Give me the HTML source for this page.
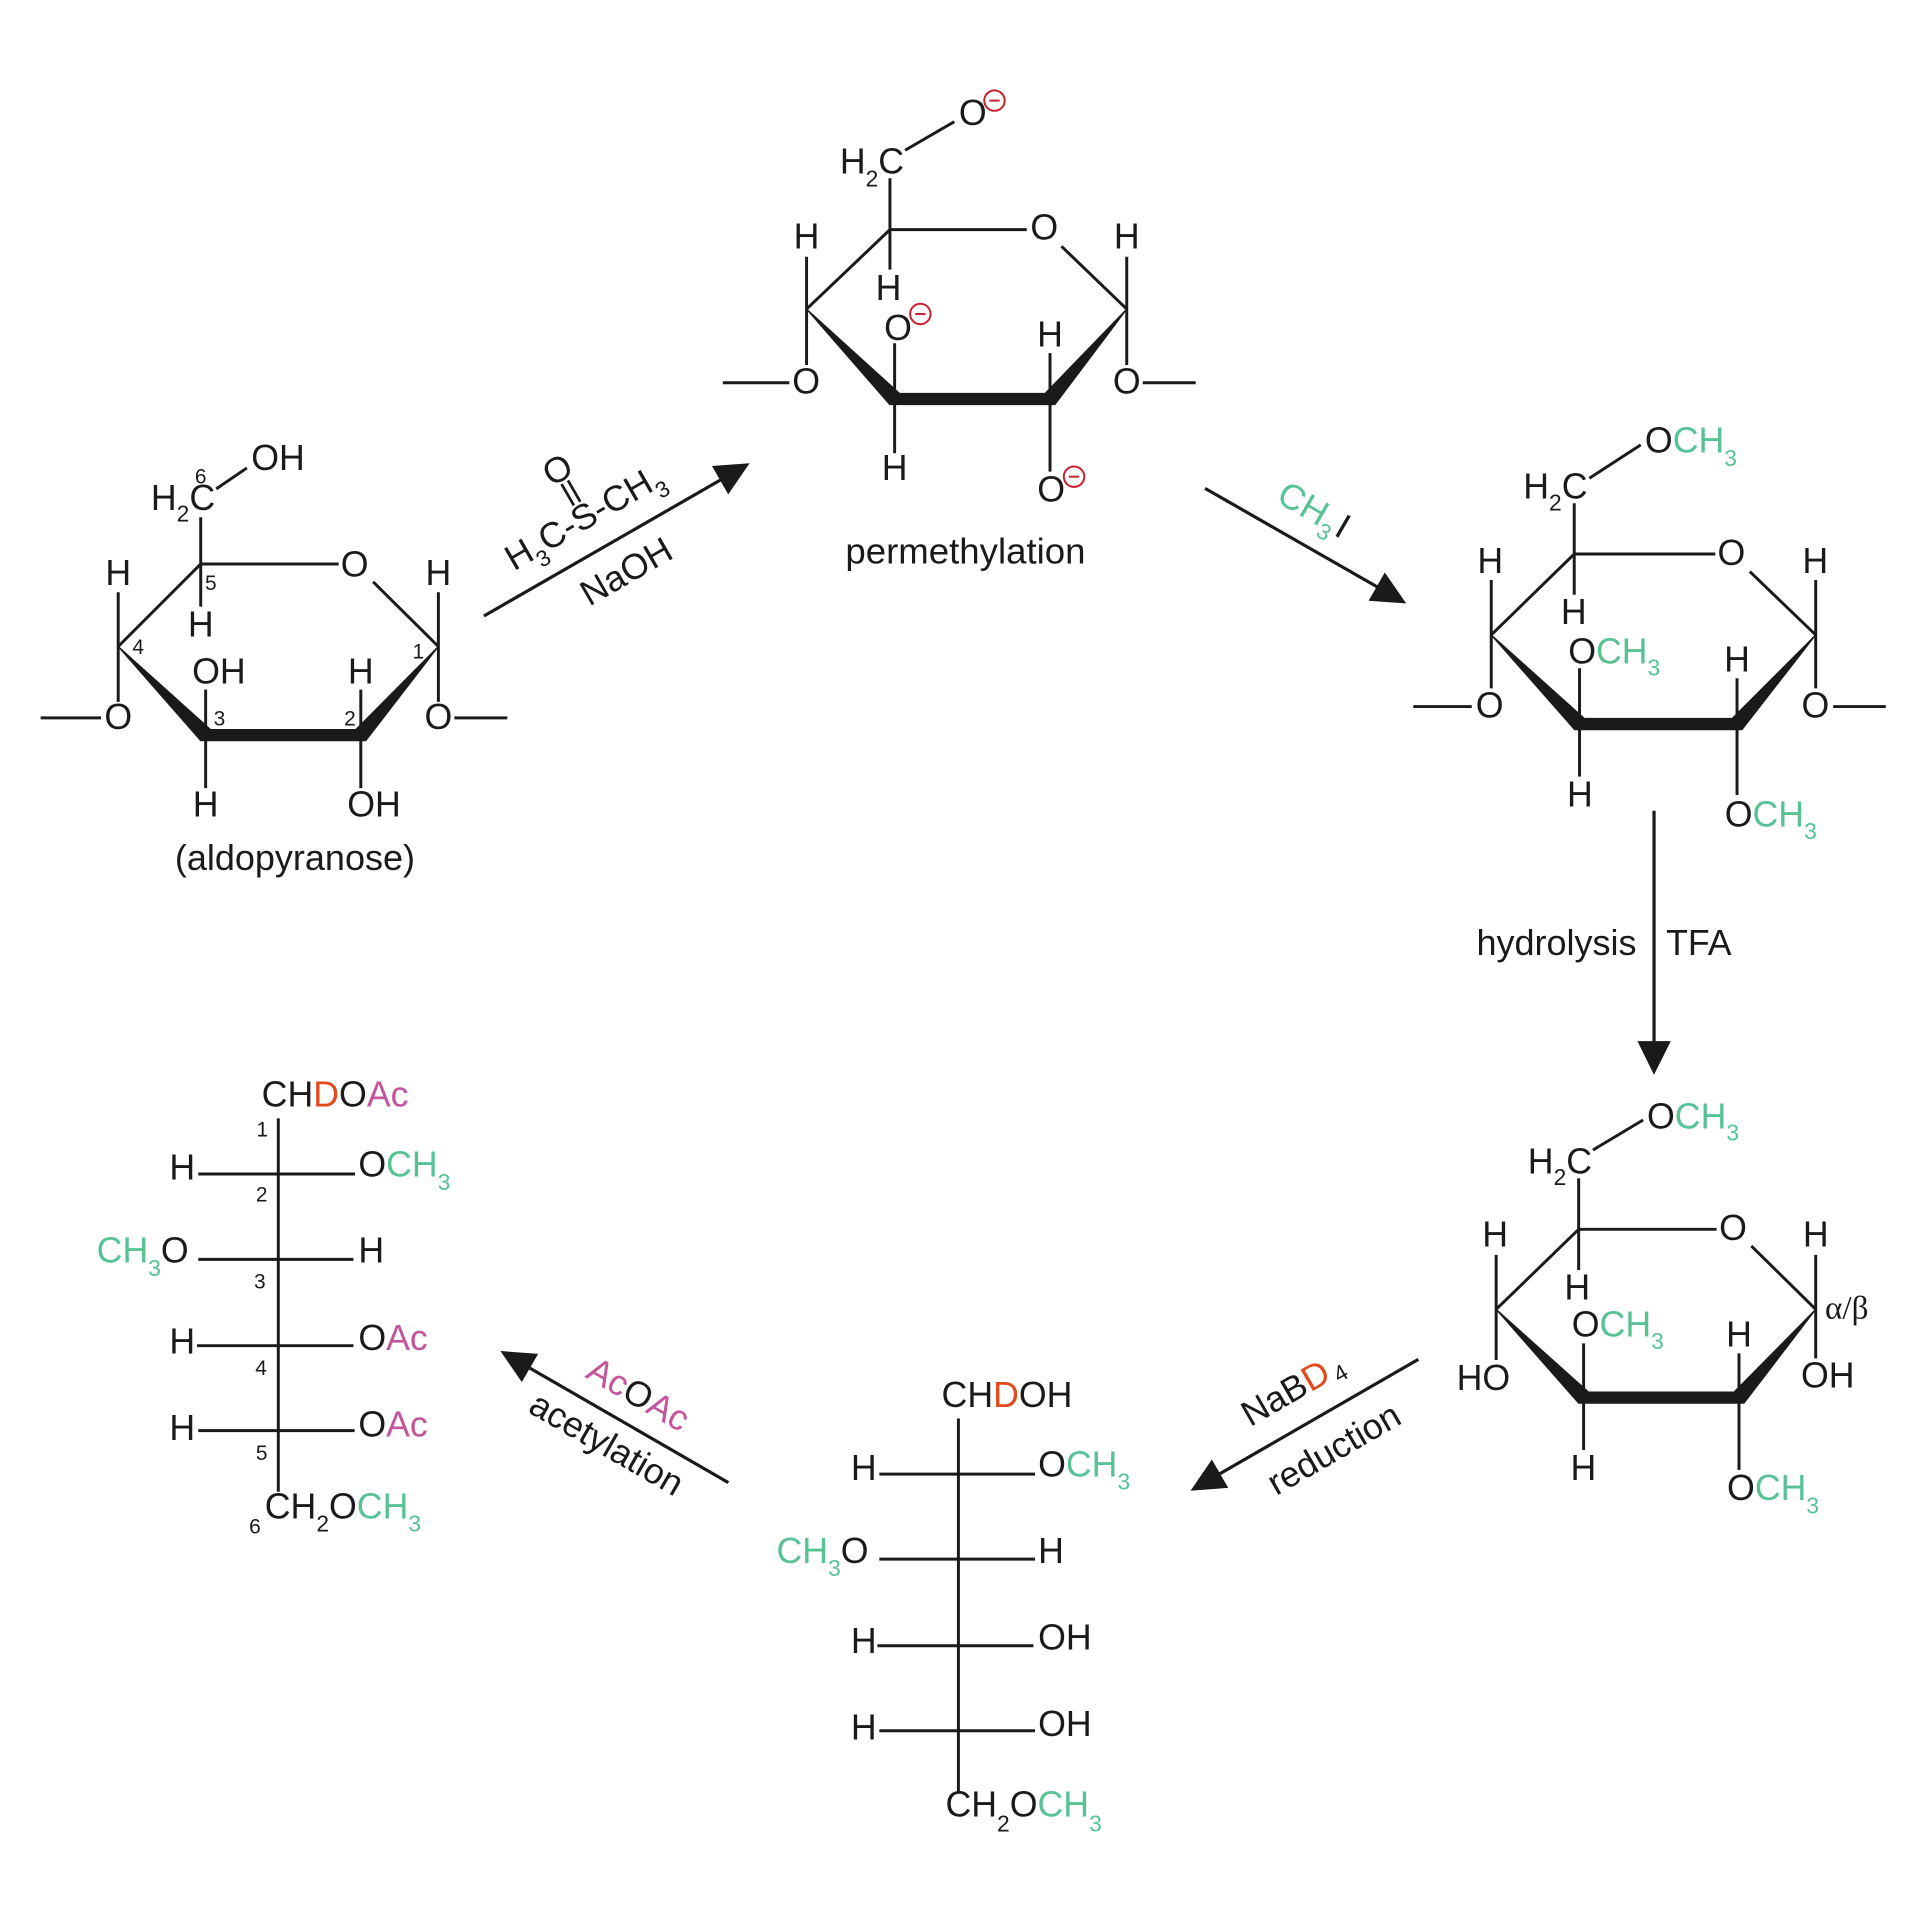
<!DOCTYPE html>
<html><head><meta charset="utf-8"><style>
html,body{margin:0;padding:0;background:#fff}
svg{display:block}
.t{font-family:"Liberation Sans",Arial,sans-serif;font-size:29px;fill:#1a1a1a}
.s{font-size:18.5px}
.n{font-family:"Liberation Sans",Arial,sans-serif;font-size:17px;fill:#1a1a1a}
.g{fill:#57c394}
.p{fill:#c4549b}
.o{fill:#e04a1c}
.m{text-anchor:middle}
.e{text-anchor:end}
.b{stroke:#1a1a1a;stroke-width:2.4;fill:none;stroke-linecap:butt}
.w{fill:#1a1a1a;stroke:#1a1a1a;stroke-width:1;stroke-linejoin:miter}
.c{fill:none;stroke:#c8202c;stroke-width:1.6}
</style></head><body>
<svg width="1921" height="1921" viewBox="0 0 1560 1560" xmlns="http://www.w3.org/2000/svg">

<!-- ===== Ring 1 (aldopyranose) ===== -->
<g>
<path class="b" d="M96 525 L163 458 L275 458 M303 472.5 L356 525 M96 481 L96 570 M356 481 L356 570 M33 583 L82 583 M369 583 L412 583 M163 420 L163 492.6 M175.6 397 L200.5 380 M167 597 L167 560 M167 597 L167 640 M293 597 L293 560 M293 597 L293 640"/>
<polygon class="w" points="96,525 171,592.5 289,592.5 356,525 297,601.5 163,601.5"/>
<text class="t m" x="96" y="475">H</text>
<text class="t m" x="96" y="592">O</text>
<text class="t m" x="356" y="475">H</text>
<text class="t m" x="356" y="592">O</text>
<text class="t m" x="288" y="468">O</text>
<text class="t" x="122.5" y="414">H<tspan class="s" dy="9.5">2</tspan><tspan dy="-9.5">C</tspan></text>
<text class="n m" x="163" y="392.5">6</text>
<text class="t" x="204" y="381.7">OH</text>
<text class="t m" x="163" y="517">H</text>
<text class="n" x="166.5" y="479">5</text>
<text class="n" x="107.5" y="531">4</text>
<text class="t" x="156" y="555">OH</text>
<text class="t m" x="167" y="663">H</text>
<text class="n" x="173.5" y="589">3</text>
<text class="t m" x="293" y="555">H</text>
<text class="t" x="282" y="663">OH</text>
<text class="n" x="279.5" y="589">2</text>
<text class="n" x="335" y="534.7">1</text>
<text class="t m" x="239.5" y="706.5" textLength="195" lengthAdjust="spacingAndGlyphs">(aldopyranose)</text>
</g>

<!-- ===== Ring 2 (alkoxide) ===== -->
<g>
<path class="b" d="M655 251 L722.7 186.5 L833.8 186.5 M862 200 L915 251 M722.7 186.5 L722.7 144.8 M722.7 186.5 L722.7 219 M735 122 L775 98.8 M655 208.5 L655 296.4 M915 208.5 L915 296.4 M587 310.8 L641 310.8 M928 310.8 L971 310.8 M726.5 324 L726.5 278.7 M726.5 324 L726.5 368 M852.7 324 L852.7 286.8 M852.7 324 L852.7 383"/>
<polygon class="w" points="655,251 730.5,319.5 848.7,319.5 915,251 856.7,328.5 722.5,328.5"/>
<text class="t" x="682" y="140.8">H<tspan class="s" dy="10.8">2</tspan><tspan dy="-10.8">C</tspan></text>
<text class="t m" x="790" y="101.5">O</text>
<circle class="c" cx="807.6" cy="81.7" r="8.3"/><path class="c" d="M803.4 81.7 L811.8 81.7"/>
<text class="t m" x="721.5" y="243.6">H</text>
<text class="t m" x="848" y="194.5">O</text>
<text class="t m" x="655" y="201.7">H</text>
<text class="t m" x="654.6" y="319.4">O</text>
<text class="t m" x="915" y="201.7">H</text>
<text class="t m" x="915" y="319.4">O</text>
<text class="t m" x="729.3" y="276.1">O</text>
<circle class="c" cx="747.4" cy="255" r="8.3"/><path class="c" d="M743.2 255 L751.6 255"/>
<text class="t m" x="726.5" y="389.8">H</text>
<text class="t m" x="852.7" y="281.5">H</text>
<text class="t m" x="853.6" y="407.4">O</text>
<circle class="c" cx="872.2" cy="387.1" r="8.3"/><path class="c" d="M868 387.1 L876.4 387.1"/>
<text class="t m" x="784" y="457.5" textLength="195" lengthAdjust="spacingAndGlyphs">permethylation</text>
</g>

<!-- ===== Ring 3 (permethylated) ===== -->
<g>
<path class="b" d="M1211 515.6 L1278.4 449.9 L1393 449.9 M1421 464.2 L1474.5 515.6 M1278.4 449.9 L1278.4 408.7 M1278.4 449.9 L1278.4 483 M1290.7 388.4 L1332.4 361.3 M1211 471 L1211 559 M1474.5 471 L1474.5 559 M1147.7 573.8 L1195.2 573.8 M1488.7 573.8 L1531.4 573.8 M1282.7 588 L1282.7 542.7 M1282.7 588 L1282.7 630.7 M1410.6 588 L1410.6 550.8 M1410.6 588 L1410.6 645.6"/>
<polygon class="w" points="1211,515.6 1286.7,583.5 1406.6,583.5 1474.5,515.6 1414.6,592.5 1278.7,592.5"/>
<text class="t" x="1237" y="404.7">H<tspan class="s" dy="10">2</tspan><tspan dy="-10">C</tspan></text>
<text class="t" x="1335.8" y="367.6">O<tspan class="g">CH<tspan class="s" dy="10.8">3</tspan></tspan></text>
<text class="t m" x="1406" y="458.8">O</text>
<text class="t m" x="1278" y="506.7">H</text>
<text class="t m" x="1210.2" y="465.5">H</text>
<text class="t m" x="1209.7" y="582.5">O</text>
<text class="t m" x="1474.1" y="465.5">H</text>
<text class="t m" x="1474.2" y="582.5">O</text>
<text class="t" x="1273.5" y="538.7">O<tspan class="g">CH<tspan class="s" dy="10">3</tspan></tspan></text>
<text class="t m" x="1283" y="655">H</text>
<text class="t m" x="1410.6" y="545.4">H</text>
<text class="t" x="1400.6" y="671.3">O<tspan class="g">CH<tspan class="s" dy="10">3</tspan></tspan></text>
</g>

<!-- ===== Ring 4 (hydrolysed) ===== -->
<g>
<path class="b" d="M1215 1063.3 L1282 998.3 L1394 998.3 M1422.2 1011.8 L1474.5 1063.3 M1282 998.3 L1282 956.9 M1282 998.3 L1282 1031.3 M1293.6 933.9 L1334.3 909.5 M1215 1019.1 L1215 1104.4 M1474.5 1019.1 L1474.5 1103.1 M1286 1135 L1286 1090.9 M1286 1135 L1286 1177.5 M1412.2 1135 L1412.2 1099 M1412.2 1135 L1412.2 1193.7"/>
<polygon class="w" points="1215,1063.3 1290,1130.5 1408.2,1130.5 1474.5,1063.3 1416.2,1139.5 1282,1139.5"/>
<text class="t" x="1240.7" y="952.8">H<tspan class="s" dy="9.5">2</tspan><tspan dy="-9.5">C</tspan></text>
<text class="t" x="1337.5" y="916.3">O<tspan class="g">CH<tspan class="s" dy="10">3</tspan></tspan></text>
<text class="t m" x="1407.3" y="1007">O</text>
<text class="t m" x="1280.9" y="1055.1">H</text>
<text class="t m" x="1214.2" y="1012.4">H</text>
<text class="t e" x="1226.4" y="1128.8">HO</text>
<text class="t m" x="1474.5" y="1012.4">H</text>
<text class="t" x="1462.5" y="1126.6">OH</text>
<text x="1482" y="1070.6" style="font-family:'Liberation Serif','DejaVu Serif',serif;font-size:27px;fill:#1a1a1a">α/β</text>
<text class="t" x="1276.4" y="1085.5">O<tspan class="g">CH<tspan class="s" dy="10">3</tspan></tspan></text>
<text class="t m" x="1285.8" y="1201.9">H</text>
<text class="t m" x="1412.2" y="1093.6">H</text>
<text class="t" x="1402.5" y="1218.1">O<tspan class="g">CH<tspan class="s" dy="10.8">3</tspan></tspan></text>
</g>

<!-- ===== Fischer 1 (alditol acetate) ===== -->
<g>
<path class="b" d="M226 908.2 L226 1211.4 M161 953.4 L288.3 953.4 M161 1022.7 L287 1022.7 M160 1092.8 L287 1092.8 M161 1161.8 L288 1161.8"/>
<text class="t" x="212.5" y="898.7">CH<tspan class="o">D</tspan>O<tspan class="p">Ac</tspan></text>
<text class="n m" x="213" y="923.1">1</text>
<text class="t" x="137.5" y="957.7">H</text>
<text class="t" x="291" y="955.5">O<tspan class="g">CH<tspan class="s" dy="10.9">3</tspan></tspan></text>
<text class="n m" x="212.5" y="975.8">2</text>
<text class="t" x="78.5" y="1025.4"><tspan class="g">CH</tspan><tspan class="s g" dy="10.8">3</tspan><tspan dy="-10.8">O</tspan></text>
<text class="t" x="291" y="1025.4">H</text>
<text class="n m" x="211" y="1046.2">3</text>
<text class="t" x="137.5" y="1099">H</text>
<text class="t" x="291" y="1096.3">O<tspan class="p">Ac</tspan></text>
<text class="n m" x="212" y="1116.6">4</text>
<text class="t" x="137.5" y="1169.4">H</text>
<text class="t" x="291" y="1166.7">O<tspan class="p">Ac</tspan></text>
<text class="n m" x="212.5" y="1185.6">5</text>
<text class="n m" x="207" y="1245.2">6</text>
<text class="t" x="215" y="1233">CH<tspan class="s" dy="10.8">2</tspan><tspan dy="-10.8">O</tspan><tspan class="g">CH</tspan><tspan class="s g" dy="10.8">3</tspan></text>
</g>

<!-- ===== Fischer 2 (alditol) ===== -->
<g>
<path class="b" d="M778.3 1151.9 L778.3 1455 M714.1 1197.1 L840.5 1197.1 M714.1 1266.1 L840.5 1266.1 M712.5 1336.5 L839.2 1336.5 M714.1 1405.5 L840.5 1405.5"/>
<text class="t" x="764.6" y="1142.4">CH<tspan class="o">D</tspan>OH</text>
<text class="t" x="691" y="1201.9">H</text>
<text class="t" x="843" y="1199.2">O<tspan class="g">CH<tspan class="s" dy="10.3">3</tspan></tspan></text>
<text class="t" x="630.6" y="1269.1"><tspan class="g">CH</tspan><tspan class="s g" dy="10.8">3</tspan><tspan dy="-10.8">O</tspan></text>
<text class="t" x="843" y="1269.1">H</text>
<text class="t" x="691" y="1342.2">H</text>
<text class="t" x="843" y="1339.5">OH</text>
<text class="t" x="691" y="1412.5">H</text>
<text class="t" x="843" y="1409.8">OH</text>
<text class="t" x="767.8" y="1475.3">CH<tspan class="s" dy="12">2</tspan><tspan dy="-12">O</tspan><tspan class="g">CH</tspan><tspan class="s g" dy="12">3</tspan></text>
</g>

<!-- ===== Arrows ===== -->
<g>
<path class="b" style="stroke-width:2.6" d="M393 500.2 L587 388.7"/>
<polygon class="w" points="607.7,376.8 591.4,400.5 579,378.9"/>
<path class="b" style="stroke-width:2.6" d="M978.6 396.6 L1120 477.5"/>
<polygon class="w" points="1141,489.5 1112.2,487.4 1124.6,465.8"/>
<path class="b" style="stroke-width:2.6" d="M1343.2 658.4 L1343.2 848"/>
<polygon class="w" points="1343.2,871.7 1330.5,846 1356,846"/>
<path class="b" style="stroke-width:2.6" d="M1151.8 1103.9 L988.5 1198"/>
<polygon class="w" points="967.8,1210 996.6,1207.8 984.1,1186.2"/>
<path class="b" style="stroke-width:2.6" d="M591.5 1204 L428 1109.7"/>
<polygon class="w" points="407.4,1097.7 423.7,1121.5 436.2,1099.9"/>
</g>

<!-- Arrow 1 labels -->
<g transform="translate(419,463) rotate(-30)">
<text class="t" x="-2" y="0">H<tspan class="s" dy="9">3</tspan><tspan dy="-9">C-S-CH</tspan><tspan class="s" dy="9">3</tspan></text>
<text class="t m" x="70" y="-44">O</text>
<path class="b" style="stroke-width:2.2" d="M67 -22 L67 -42 M73 -22 L73 -42"/>
<text class="t m" x="77" y="55.5">NaOH</text>
</g>

<!-- Arrow 2 labels -->
<g transform="translate(1036.2,407.4) rotate(30)">
<text class="t" x="-1" y="0"><tspan class="g">CH</tspan><tspan class="s g" dy="8">3</tspan><tspan dy="-8" dx="2">I</tspan></text>
</g>

<!-- Arrow 3 labels -->
<text class="t" x="1199" y="775.6" textLength="130" lengthAdjust="spacingAndGlyphs">hydrolysis</text>
<text class="t" x="1353" y="775.6">TFA</text>

<!-- Arrow 4 labels -->
<g transform="translate(1017,1158) rotate(-30)">
<text class="t" x="-2" y="0">NaB<tspan class="o">D</tspan><tspan class="s" dx="3" dy="5">4</tspan></text>
<text class="t m" x="48" y="59">reduction</text>
</g>

<!-- Arrow 5 labels -->
<text class="t m" transform="translate(513.5,1140.7) rotate(30)" x="0" y="0"><tspan class="p">Ac</tspan>O<tspan class="p">Ac</tspan></text>
<text class="t m" transform="translate(487.8,1180.9) rotate(30)" x="0" y="0">acetylation</text>

</svg>
</body></html>
